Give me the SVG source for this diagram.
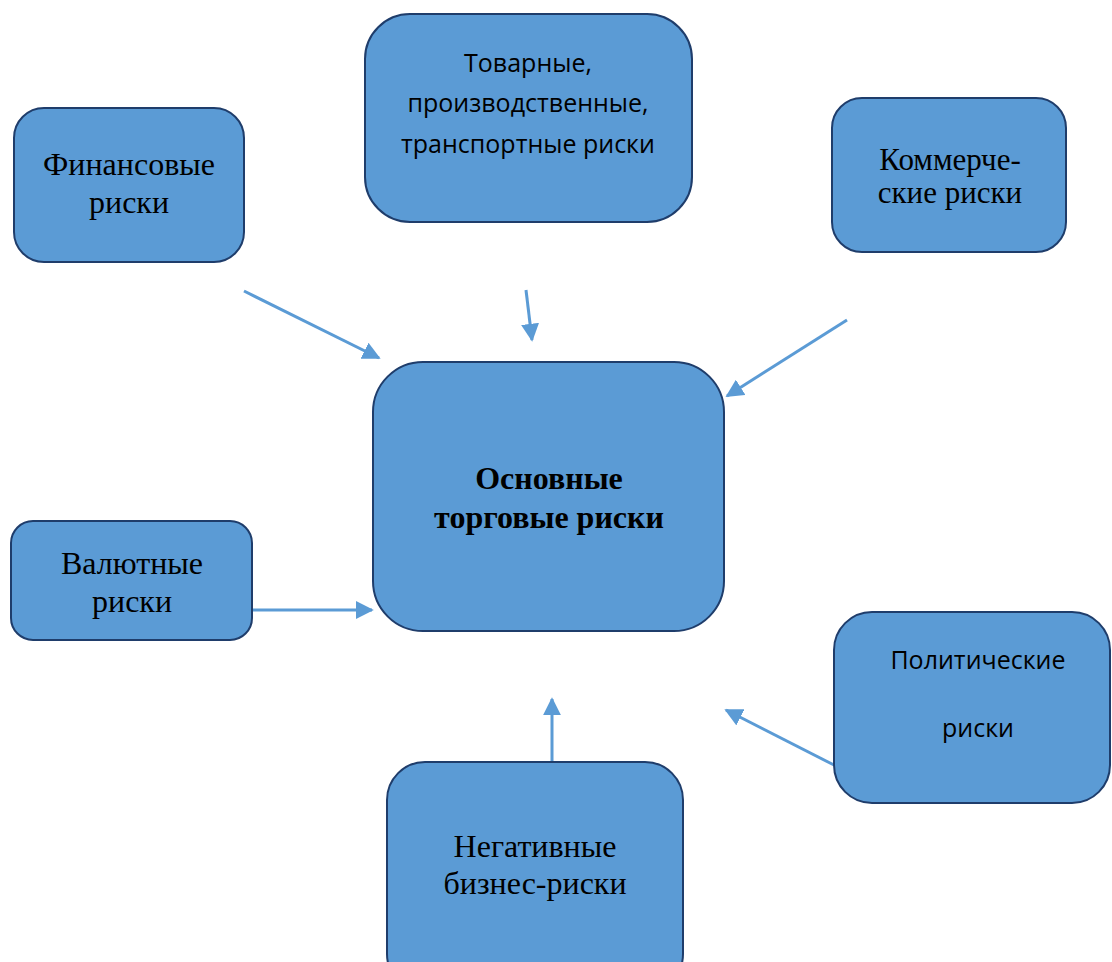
<svg xmlns="http://www.w3.org/2000/svg" width="1112" height="962" viewBox="0 0 1112 962">
<defs>
<style>
.box{fill:#5B9BD5;stroke:#1F3D6B;stroke-width:2}
.serif{font-family:"Liberation Serif","Times New Roman",serif;font-size:32px;fill:#000;text-anchor:middle}
.sans{font-family:"Open Sans","Liberation Sans",sans-serif;font-size:25px;fill:#000;text-anchor:middle}
.bold{font-weight:bold}
.arr{stroke:#5B9BD5;stroke-width:3;fill:none;marker-end:url(#ah)}
</style>
<marker id="ah" viewBox="0 0 10 10" refX="9" refY="5" markerWidth="6" markerHeight="6" markerUnits="strokeWidth" orient="auto">
<path d="M0,0 L10,5 L0,10 Z" fill="#5B9BD5"/>
</marker>
</defs>
<rect width="1112" height="962" fill="#ffffff"/>
<g id="connectors">
<line class="arr" x1="244" y1="291" x2="379" y2="358"/>
<line class="arr" x1="526" y1="290" x2="532" y2="340"/>
<line class="arr" x1="847" y1="320" x2="727" y2="396"/>
<line class="arr" x1="252" y1="610" x2="372" y2="610"/>
<line class="arr" x1="552" y1="762" x2="552" y2="699"/>
<line class="arr" x1="834" y1="765" x2="726" y2="710"/>
</g>
<g id="financial">
<rect class="box" x="14" y="108" width="230" height="154" rx="30"/>
<text class="serif" x="129" y="175">Финансовые</text>
<text class="serif" x="129" y="213">риски</text>
</g>
<g id="goods">
<rect class="box" x="365" y="14" width="327" height="208" rx="45"/>
<text class="sans" x="528" y="72">Товарные,</text>
<text class="sans" x="528" y="112">производственные,</text>
<text class="sans" x="528" y="153">транспортные риски</text>
</g>
<g id="commercial">
<rect class="box" x="832" y="98" width="234" height="154" rx="30"/>
<text class="serif" x="950" y="170" style="font-size:31px">Коммерче-</text>
<text class="serif" x="950" y="203" style="font-size:31px">ские риски</text>
</g>
<g id="main">
<rect class="box" x="373" y="362" width="351" height="269" rx="50"/>
<text class="serif bold" x="549" y="489">Основные</text>
<text class="serif bold" x="549" y="528">торговые риски</text>
</g>
<g id="currency">
<rect class="box" x="11" y="521" width="241" height="119" rx="22"/>
<text class="serif" x="132" y="574">Валютные</text>
<text class="serif" x="132" y="612">риски</text>
</g>
<g id="political">
<rect class="box" x="834" y="612" width="276" height="191" rx="38"/>
<text class="sans" x="978" y="669">Политические</text>
<text class="sans" x="978" y="737">риски</text>
</g>
<g id="negative">
<rect class="box" x="387" y="762" width="296" height="230" rx="38"/>
<text class="serif" x="535" y="857">Негативные</text>
<text class="serif" x="535" y="894">бизнес-риски</text>
</g>
</svg>
